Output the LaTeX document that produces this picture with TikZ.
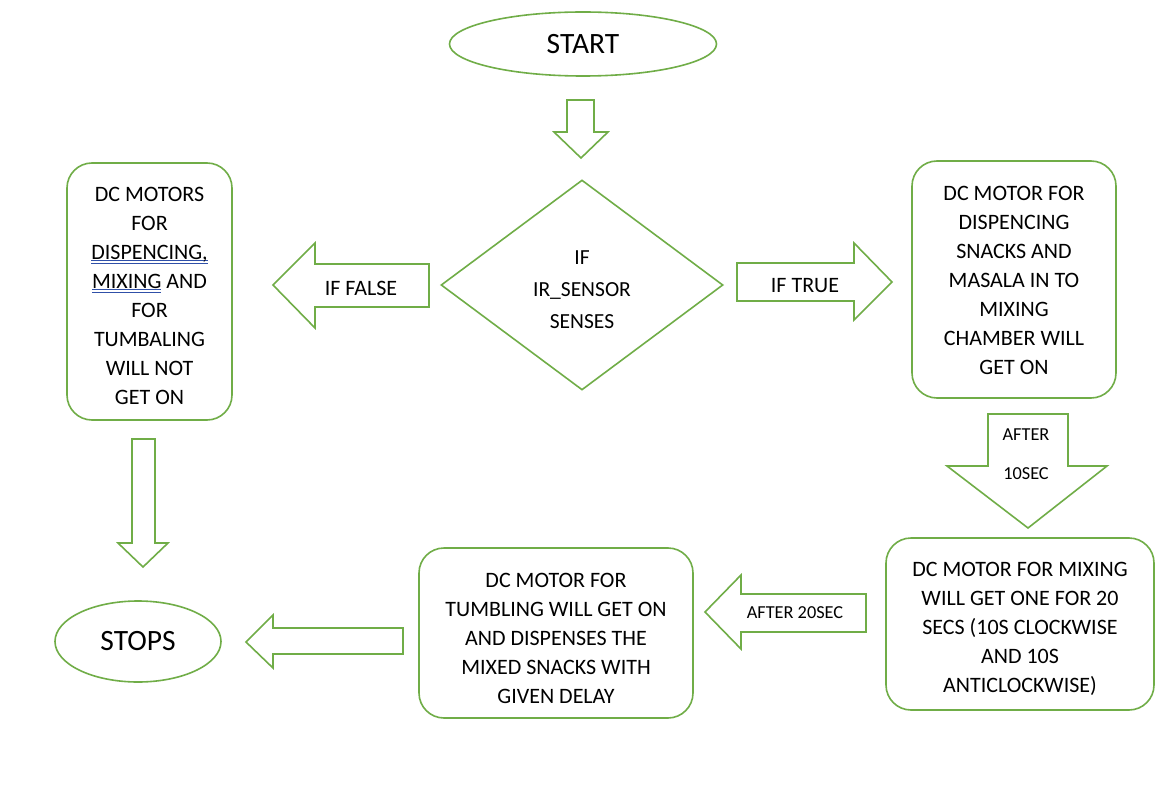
\documentclass[tikz,border=0pt]{standalone}
\usepackage{fontspec}
\setmainfont{Carlito}
\usetikzlibrary{shapes.geometric}
\definecolor{ofgreen}{HTML}{70AD47}
\definecolor{ulblue}{HTML}{3050A8}
\newcommand\dbul[1]{\setbox0=\hbox{#1}\rlap{\color{ulblue}\raisebox{-2pt}{\rule{\wd0}{0.8pt}}}\rlap{\color{ulblue}\raisebox{-4.5pt}{\rule{\wd0}{0.8pt}}}\box0\relax}
\begin{document}
\begin{tikzpicture}[x=1pt,y=-1pt,
  box/.style={draw=ofgreen, line width=1.6pt, rounded corners=25pt},
  txt/.style={align=center, inner sep=0pt, font=\fontsize{22}{29}\selectfont},
  oval/.style={ellipse, draw=ofgreen, line width=1.6pt, inner sep=0pt, font=\fontsize{29.5}{34}\selectfont},
  blk/.style={draw=ofgreen, line width=1.6pt, line join=miter, fill=white},
  lbl/.style={font=\fontsize{22}{29}\selectfont, inner sep=0pt},
  slbl/.style={font=\fontsize{18.3}{22}\selectfont, inner sep=0pt}]
\useasboundingbox[fill=white] (0,0) rectangle (1164,794);

% nodes
\node[oval, minimum width=267pt, minimum height=64pt] (start) at (583,44) {START};
\node[diamond, draw=ofgreen, line width=1.6pt, minimum width=282pt, minimum height=210pt, aspect=1.343, inner sep=0pt,
  label={[txt, font=\fontsize{21.5}{32}\selectfont, yshift=-4.5pt]center:{IF\\IR\_SENSOR\\SENSES}}] (dec) at (582,285) {};
\node[box, minimum width=165pt, minimum height=257pt,
  label={[txt, yshift=-4pt]center:{DC MOTORS\\FOR\\\dbul{DISPENCING,}\\\dbul{MIXING} AND\\FOR\\TUMBALING\\WILL NOT\\GET ON}}] (off) at (149.5,291.5) {};
\node[box, minimum width=204pt, minimum height=237pt,
  label={[txt, yshift=-1pt]center:{DC MOTOR FOR\\DISPENCING\\SNACKS AND\\MASALA IN TO\\MIXING\\CHAMBER WILL\\GET ON}}] (disp) at (1014,279.5) {};
\node[box, minimum width=268pt, minimum height=172pt,
  label={[txt, yshift=-5pt]center:{DC MOTOR FOR MIXING\\WILL GET ONE FOR 20\\SECS (10S CLOCKWISE\\AND 10S\\ANTICLOCKWISE)}}] (mix) at (1020,624) {};
\node[box, minimum width=274pt, minimum height=170pt,
  label={[txt, yshift=-5pt]center:{DC MOTOR FOR\\TUMBLING WILL GET ON\\AND DISPENSES THE\\MIXED SNACKS WITH\\GIVEN DELAY}}] (tumb) at (556,633) {};
\node[oval, minimum width=166pt, minimum height=81pt] (stop) at (138,641.5) {STOPS};

% block arrows
\draw[blk] (567,100)--(594,100)--(594,132)--(608,132)--(581,158)--(554,132)--(567,132)--cycle;
\draw[blk] (429,264)--(315,264)--(315,243)--(273,285)--(315,328)--(315,307)--(429,307)--cycle;
\draw[blk] (737,263)--(854,263)--(854,243)--(892,282)--(854,320)--(854,301)--(737,301)--cycle;
\draw[blk] (988,414)--(1068,414)--(1068,466)--(1107,466)--(1028,528)--(947,466)--(988,466)--cycle;
\draw[blk] (866,594)--(741,594)--(741,575)--(705,612)--(741,649)--(741,632)--(866,632)--cycle;
\draw[blk] (403,628)--(273,628)--(273,615)--(246,642)--(273,668)--(273,654)--(403,654)--cycle;
\draw[blk] (132,439)--(155,439)--(155,543)--(168,543)--(143,567)--(118,543)--(132,543)--cycle;

% arrow labels
\node[lbl] (lf) at (361,288) {IF FALSE};
\node[lbl] (lt) at (805,286) {IF TRUE};
\node[slbl] (la1) at (1026,435) {AFTER};
\node[slbl] (la2) at (1026,474) {10SEC};
\node[slbl] (lb) at (795,613) {AFTER 20SEC};
\end{tikzpicture}
\end{document}
